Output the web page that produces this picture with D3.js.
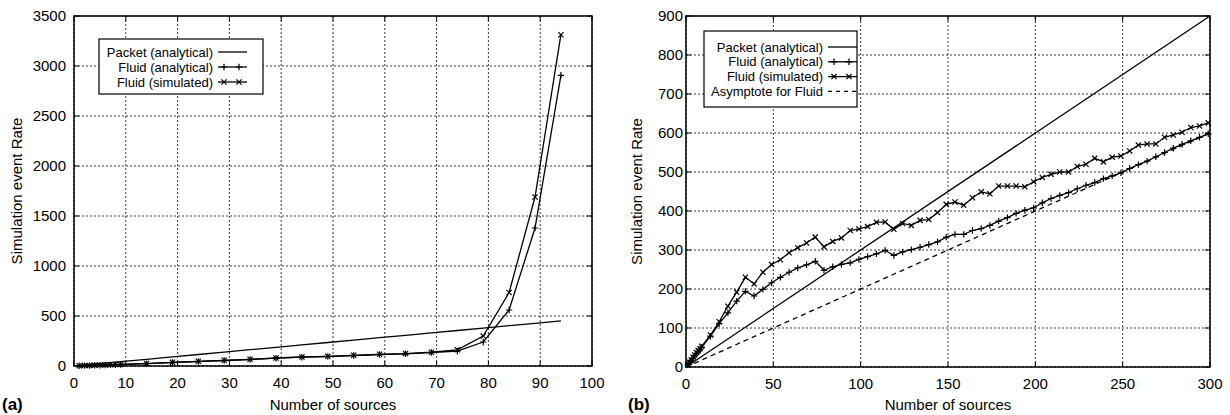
<!DOCTYPE html>
<html lang="en">
<head>
    <meta charset="UTF-8">
    <title>Simulation event rate vs number of sources</title>
    <script src="https://d3js.org/d3.v7.min.js"></script>
    <style>
        body { margin: 0; background: #fff; font-family: "Liberation Sans", Arial, sans-serif; }
        svg text { fill: #000; }
    </style>
</head>
<body>
    <svg id="chart" width="1230" height="415"></svg>

    <script>
        // ---- data (a) ----
        const sourcesA = [1, 2, 3, 4, 5, 6, 7, 8, 9, 14, 19, 24, 29, 34, 39, 44, 49, 54, 59, 64, 69, 74, 79, 84, 89, 94];
        const packetA = [5, 10, 14, 19, 24, 29, 34, 38, 43, 67, 91, 115, 139, 163, 187, 211, 235, 259, 283, 307, 331, 355, 379, 403, 427, 451];
        const fluidAnalyticalA = [2, 4, 5, 7, 8, 10, 11, 13, 15, 23, 35, 45, 55, 65, 78, 88, 95, 105, 115, 122, 135, 150, 240, 560, 1380, 2907];
        const fluidSimulatedA = [2, 4, 6, 7, 9, 10, 12, 14, 16, 24, 37, 47, 57, 67, 80, 90, 97, 107, 117, 124, 138, 162, 300, 735, 1690, 3313];

        // ---- data (b) ----
        const sourcesB = [1, 2, 3, 4, 5, 6, 7, 8, 9, 14, 19, 24, 29, 34, 39, 44, 49, 54, 59, 64, 69, 74, 79, 84, 89, 94,
            99, 104, 109, 114, 119, 124, 129, 134, 139, 144, 149, 154, 159, 164, 169, 174, 179, 184, 189, 194, 199,
            204, 209, 214, 219, 224, 229, 234, 239, 244, 249, 254, 259, 264, 269, 274, 279, 284, 289, 294, 299];
        const fluidAnalyticalB = [6, 11, 17, 23, 29, 34, 40, 45, 51, 79, 111, 139, 169, 194, 182, 199, 216, 230, 243, 254, 262, 271, 248, 257, 263,
            267, 276, 283, 290, 299, 286, 295, 301, 307, 314, 321, 333, 340, 340, 350, 355, 363, 374, 383, 394, 402,
            408, 421, 432, 440, 447, 457, 466, 473, 483, 490, 498, 509, 519, 528, 539, 550, 561, 571, 580, 589, 598];
        const fluidSimulatedB = [6, 12, 18, 25, 31, 37, 42, 47, 53, 82, 116, 156, 192, 230, 213, 243, 263, 275, 293, 306, 318, 333, 308, 322, 331,
            350, 354, 360, 371, 372, 353, 368, 363, 376, 378, 396, 417, 423, 415, 434, 449, 444, 464, 464, 464, 462,
            475, 486, 494, 500, 500, 514, 520, 535, 526, 538, 541, 554, 569, 572, 572, 589, 595, 602, 614, 618, 626];
        const packetBx = [0, 300];
        const packetBy = [0, 900];
        const asymptoteBx = [0, 300];
        const asymptoteBy = [0, 600];

        const ticksAx = [0, 10, 20, 30, 40, 50, 60, 70, 80, 90, 100];
        const ticksAy = [0, 500, 1000, 1500, 2000, 2500, 3000, 3500];
        const ticksBx = [0, 50, 100, 150, 200, 250, 300];
        const ticksBy = [0, 100, 200, 300, 400, 500, 600, 700, 800, 900];

        const svg = d3.select("#chart");

        function zip(xs, ys) {
            return xs.map((x, i) => [x, ys[i]]);
        }

        function drawPanel(cfg) {
            const x = d3.scaleLinear().domain(cfg.xDomain).range(cfg.xRange);
            const y = d3.scaleLinear().domain(cfg.yDomain).range(cfg.yRange);
            const g = svg.append("g");
            const [x0, x1] = cfg.xRange;
            const [y0, y1] = cfg.yRange;

            // dotted grid
            g.selectAll(".gx").data(cfg.xTicks).enter().append("line")
                .attr("x1", d => x(d)).attr("x2", d => x(d))
                .attr("y1", y0).attr("y2", y1)
                .attr("stroke", "#222").attr("stroke-width", 0.9)
                .attr("stroke-dasharray", "2,2");
            g.selectAll(".gy").data(cfg.yTicks).enter().append("line")
                .attr("x1", x0).attr("x2", x1)
                .attr("y1", d => y(d)).attr("y2", d => y(d))
                .attr("stroke", "#222").attr("stroke-width", 0.9)
                .attr("stroke-dasharray", "2,2");

            // inward ticks on all sides
            g.selectAll(".tx").data(cfg.xTicks).enter().append("path")
                .attr("d", d => `M${x(d)},${y0}v-5M${x(d)},${y1}v5`)
                .attr("stroke", "#000").attr("stroke-width", 1);
            g.selectAll(".ty").data(cfg.yTicks).enter().append("path")
                .attr("d", d => `M${x0},${y(d)}h5M${x1},${y(d)}h-5`)
                .attr("stroke", "#000").attr("stroke-width", 1);

            // tick labels
            g.selectAll(".lx").data(cfg.xTicks).enter().append("text")
                .attr("x", d => x(d)).attr("y", y0 + 22)
                .attr("text-anchor", "middle")
                .style("font-size", "15px")
                .text(d => d);
            g.selectAll(".ly").data(cfg.yTicks).enter().append("text")
                .attr("x", x0 - cfg.yLabelGap).attr("y", d => y(d) + 5)
                .attr("text-anchor", "end")
                .style("font-size", "15px")
                .text(d => d);

            // axis titles
            g.append("text")
                .attr("x", (x0 + x1) / 2).attr("y", 410)
                .attr("text-anchor", "middle")
                .style("font-size", "15px")
                .text("Number of sources");
            g.append("text")
                .attr("transform", `translate(${cfg.yTitleX},${(y0 + y1) / 2}) rotate(-90)`)
                .attr("text-anchor", "middle")
                .style("font-size", "15px")
                .text("Simulation event Rate");
            g.append("text")
                .attr("x", cfg.panelLabelX).attr("y", 410)
                .style("font-size", "17px").style("font-weight", "bold")
                .text(cfg.panelLabel);

            const line = d3.line().x(d => x(d[0])).y(d => y(d[1]));

            cfg.series.forEach(s => {
                const pts = zip(s.xs, s.ys);
                g.append("path")
                    .datum(pts)
                    .attr("d", line)
                    .attr("fill", "none")
                    .attr("stroke", "#000")
                    .attr("stroke-width", 1.3)
                    .attr("stroke-dasharray", s.dash ? "5,4" : null);
                if (s.marker) {
                    g.selectAll(null).data(pts).enter().append("path")
                        .attr("d", d => markerPath(s.marker, x(d[0]), y(d[1])))
                        .attr("stroke", "#000").attr("stroke-width", 1.2)
                        .attr("fill", "none");
                }
            });

            // frame
            g.append("rect")
                .attr("x", x0).attr("y", y1)
                .attr("width", x1 - x0).attr("height", y0 - y1)
                .attr("fill", "none").attr("stroke", "#000").attr("stroke-width", 1.5);

            // legend
            const L = cfg.legend;
            const lg = g.append("g");
            lg.append("rect")
                .attr("x", L.x).attr("y", L.y).attr("width", L.w).attr("height", L.h)
                .attr("fill", "#fff").attr("stroke", "#000").attr("stroke-width", 1.2);
            cfg.series.forEach((s, i) => {
                const ry = L.firstRow + i * L.rowGap;
                lg.append("text")
                    .attr("x", L.textX).attr("y", ry + 4.5)
                    .attr("text-anchor", "end")
                    .style("font-size", "13px")
                    .text(s.name);
                lg.append("line")
                    .attr("x1", L.textX + 5).attr("x2", L.textX + 34)
                    .attr("y1", ry).attr("y2", ry)
                    .attr("stroke", "#000").attr("stroke-width", 1.3)
                    .attr("stroke-dasharray", s.dash ? "4,4" : null);
                if (s.marker) {
                    [L.textX + 11, L.textX + 26].forEach(mx => {
                        lg.append("path")
                            .attr("d", markerPath(s.marker, mx, ry))
                            .attr("stroke", "#000").attr("stroke-width", 1.2);
                    });
                }
            });
        }

        function markerPath(type, cx, cy) {
            const r = 3.2;
            if (type === "plus") {
                return `M${cx - r},${cy}H${cx + r}M${cx},${cy - r}V${cy + r}`;
            }
            const q = 2.6;
            return `M${cx - q},${cy - q}L${cx + q},${cy + q}M${cx - q},${cy + q}L${cx + q},${cy - q}`;
        }

        drawPanel({
            xDomain: [0, 100], xRange: [74, 592],
            yDomain: [0, 3500], yRange: [366, 16],
            xTicks: ticksAx, yTicks: ticksAy,
            yLabelGap: 8, yTitleX: 22,
            panelLabel: "(a)", panelLabelX: 2,
            series: [
                { name: "Packet (analytical)", xs: sourcesA, ys: packetA },
                { name: "Fluid (analytical)", xs: sourcesA, ys: fluidAnalyticalA, marker: "plus" },
                { name: "Fluid (simulated)", xs: sourcesA, ys: fluidSimulatedA, marker: "cross" }
            ],
            legend: { x: 99, y: 39, w: 164, h: 55, textX: 213, firstRow: 52, rowGap: 15 }
        });

        drawPanel({
            xDomain: [0, 300], xRange: [686, 1210],
            yDomain: [0, 900], yRange: [367, 16],
            xTicks: ticksBx, yTicks: ticksBy,
            yLabelGap: 3, yTitleX: 642,
            panelLabel: "(b)", panelLabelX: 628,
            series: [
                { name: "Packet (analytical)", xs: packetBx, ys: packetBy },
                { name: "Fluid (analytical)", xs: sourcesB, ys: fluidAnalyticalB, marker: "plus" },
                { name: "Fluid (simulated)", xs: sourcesB, ys: fluidSimulatedB, marker: "cross" },
                { name: "Asymptote for Fluid", xs: asymptoteBx, ys: asymptoteBy, dash: true }
            ],
            legend: { x: 704, y: 31, w: 153, h: 76, textX: 823, firstRow: 47, rowGap: 14.8 }
        });
    </script>
</body>
</html>
